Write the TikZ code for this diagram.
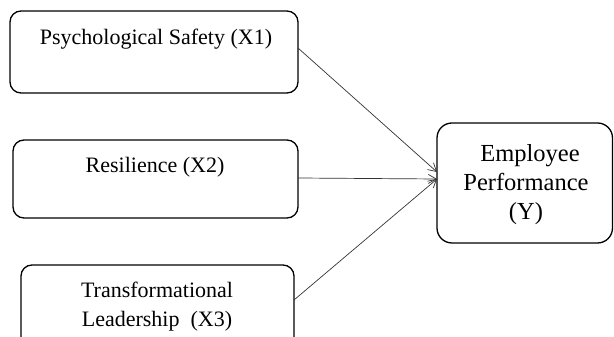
\documentclass[tikz,border=0pt]{standalone}
\usepackage{fontspec}
\setmainfont{Liberation Serif}
\usetikzlibrary{arrows.meta}
\begin{document}
\begin{tikzpicture}[x=1pt,y=1pt,
  box/.style={draw=black,line width=1.3pt,rounded corners=11pt},
  lbl/.style={anchor=base,inner sep=0pt,font=\fontsize{22}{29}\selectfont},
  ylbl/.style={anchor=base,inner sep=0pt,font=\fontsize{24.5}{29}\selectfont},
  conn/.style={draw=black!80,line width=0.7pt,-{Straight Barb[length=8pt,width=9pt]}}]
\useasboundingbox (0,0) rectangle (614,337);
\clip (0,0) rectangle (614,337);
\draw[box] (10,326) rectangle (298,244);
\draw[box] (13,197) rectangle (298,119);
\draw[box] (21,72) rectangle (294,-12);
\draw[box,rounded corners=15pt] (437,214) rectangle (612.5,94);
\node[lbl] (t1) at (156,292) {Psychological Safety (X1)};
\node[lbl] (t2) at (155,164) {Resilience (X2)};
\node[lbl] (t3a) at (157,39) {Transformational};
\node[lbl] (t3b) at (157,10) {Leadership\ \ (X3)};
\node[ylbl] (ya) at (530,175) {Employee};
\node[ylbl] (yb) at (526,146) {Performance};
\node[ylbl] (yc) at (526,117) {(Y)};
\coordinate (s1) at (298,289);
\coordinate (s2) at (298,159);
\coordinate (s3) at (294,37);
\coordinate (e1) at (437,165);
\coordinate (e2) at (437,158);
\coordinate (e3) at (437,158);
\draw[conn] (s1) -- (e1);
\draw[conn] (s2) -- (e2);
\draw[conn] (s3) -- (e3);
\end{tikzpicture}
\end{document}
